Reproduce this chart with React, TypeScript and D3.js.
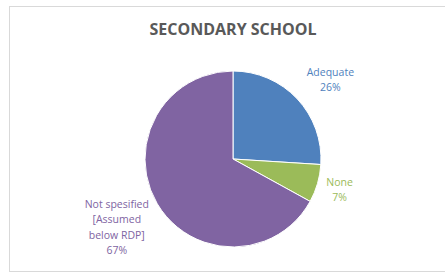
import * as d3 from 'd3';

const categories = ['Adequate', 'None', 'Not spesified [Assumed below RDP]'];
const values = [26, 7, 67];
const colors = ['#4f81bd', '#9bbb59', '#8064a2'];
// label text lines per slice
const labelLines = [['Adequate', '26%'], ['None', '7%'], ['Not spesified', '[Assumed', 'below RDP]', '67%']];

const App = () => {
  const width = 445;
  const height = 274;
  const cx = 233;
  const cy = 159;
  const r = 88;

  const pie = d3.pie<number>().sort(null).value((d) => d);
  const arcs = pie(values);
  const arc = d3.arc<d3.PieArcDatum<number>>().innerRadius(0).outerRadius(r);

  // label anchors: radial distance outside the pie, plus a small nudge
  const labelDist = [r + 36, r + 23, r + 47];
  const nudge = [[7, 6], [0, 0], [0, 0]];
  const labelPos = arcs.map((a, i) => {
    const mid = (a.startAngle + a.endAngle) / 2;
    return [Math.sin(mid) * labelDist[i] + nudge[i][0], -Math.cos(mid) * labelDist[i] + nudge[i][1]];
  });

  return (
    <svg width={width} height={height} style={{ position: 'absolute', left: 0, top: 0 }}>
      <rect x={0} y={0} width={width} height={height} fill="#fff" />
      <rect x={9.5} y={6.5} width={445} height={265} fill="#fff" stroke="#d9d9d9" />
      <text x={cx} y={35} textAnchor="middle" fontFamily="Open Sans, sans-serif"
        fontWeight="bold" fontSize={16} fill="#595959">SECONDARY SCHOOL</text>
      <g transform={`translate(${cx},${cy})`}>
        {arcs.map((a, i) => (
          <path key={categories[i]} d={arc(a) || ''} fill={colors[i]} stroke="#fff" strokeWidth={1} />
        ))}
        {arcs.map((a, i) => {
          const lines = labelLines[i];
          const [lx, ly] = labelPos[i];
          const lh = 15.5;
          const y0 = ly - ((lines.length - 1) * lh) / 2;
          return (
            <text key={'l' + i} textAnchor="middle" fontFamily="Open Sans, sans-serif"
              fontSize={10.5} fill={colors[i]}>
              {lines.map((t, j) => (
                <tspan key={j} x={lx} y={y0 + j * lh + 3.5}>{t}</tspan>
              ))}
            </text>
          );
        })}
      </g>
    </svg>
  );
};

export default App;
